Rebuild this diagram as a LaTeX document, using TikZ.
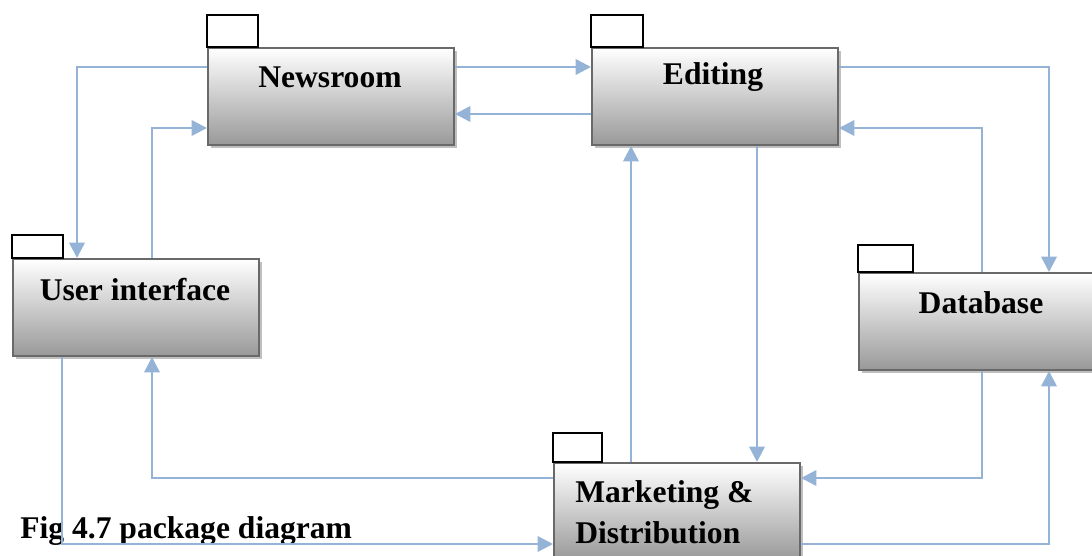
\documentclass[tikz,border=0pt]{standalone}
\usepackage{fontspec}
\setmainfont{Liberation Serif}
\usetikzlibrary{arrows.meta,shadows}
\definecolor{linkblue}{RGB}{149,179,215}
\definecolor{pkgedge}{RGB}{105,105,105}
\tikzset{
  pkg/.style={rectangle, anchor=north west, minimum width=184.5pt,
    minimum height=72.75pt, inner sep=0pt, draw=pkgedge, line width=1.5pt,
    top color=white, bottom color=black!40,
    drop shadow={shadow xshift=2.6pt, shadow yshift=-2.6pt, fill=black!25, opacity=1}},
  tab/.style={draw=black, line width=1.1pt, fill=white},
  flow/.style={draw=linkblue, line width=1.9pt, -{Triangle[length=11.5pt,width=11.5pt]}},
  lbl/.style={font=\fontsize{23.7}{28}\selectfont\bfseries, inner sep=0pt, anchor=base}
}
\begin{document}
\begin{tikzpicture}[x=0.75pt, y=-0.75pt]
\useasboundingbox (0,0) rectangle (1092,556);
\clip (0,0) rectangle (1092,556);

% packages
\node[pkg] (news) at (207,47) {};
\node[pkg] (edit) at (591,47) {};
\node[pkg] (ui)   at (12,258) {};
\node[pkg] (db)   at (858,272) {};
\node[pkg] (mkt)  at (553,462) {};

% package tabs
\draw[tab] (news.north west) rectangle ++(51,-32);
\draw[tab] (edit.north west) rectangle ++(52,-32);
\draw[tab] (ui.north west)   rectangle ++(51,-23);
\draw[tab] (db.north west)   rectangle ++(55,-27);
\draw[tab] (mkt.north west)  rectangle ++(49,-29);

% package names
\node[lbl] (tnews) at (330,88) {Newsroom};
\node[lbl] (tedit) at (713,85) {Editing};
\node[lbl] (tui)   at (135,300) {User interface};
\node[lbl] (tdb)   at (981,313) {Database};
\node[lbl, anchor=base west] (tmkt1) at (575,502) {Marketing \&};
\node[lbl, anchor=base west] (tmkt2) at (575,543) {Distribution};

% caption
\node[lbl, anchor=base west] (cap) at (20,538) {Fig 4.7 package diagram};

% routing points
\coordinate (r1) at (77,67);
\coordinate (r2) at (152,128);
\coordinate (r3) at (0,67);
\coordinate (r4) at (0,114);
\coordinate (r5) at (1049,67);
\coordinate (r6) at (982,128);
\coordinate (r7) at (757,0);
\coordinate (r8) at (631,0);
\coordinate (r9) at (152,478);
\coordinate (r10) at (62,544);
\coordinate (r11) at (982,478);
\coordinate (r12) at (1049,544);

% dependencies
\draw[flow] (news.west |- r1) -| (ui.north -| r1);
\draw[flow] (ui.north -| r2) |- (news.west |- r2);
\draw[flow] (news.east |- r3) -- (edit.west |- r3);
\draw[flow] (edit.west |- r4) -- (news.east |- r4);
\draw[flow] (edit.east |- r5) -| (db.north -| r5);
\draw[flow] (db.north -| r6) |- (edit.east |- r6);
\draw[flow] (edit.south -| r7) -- (mkt.north -| r7);
\draw[flow] (mkt.north -| r8) -- (edit.south -| r8);
\draw[flow] (mkt.west |- r9) -| (ui.south -| r9);
\draw[flow] (ui.south -| r10) |- (mkt.west |- r10);
\draw[flow] (db.south -| r11) |- (mkt.east |- r11);
\draw[flow] (mkt.east |- r12) -| (db.south -| r12);
\end{tikzpicture}
\end{document}
